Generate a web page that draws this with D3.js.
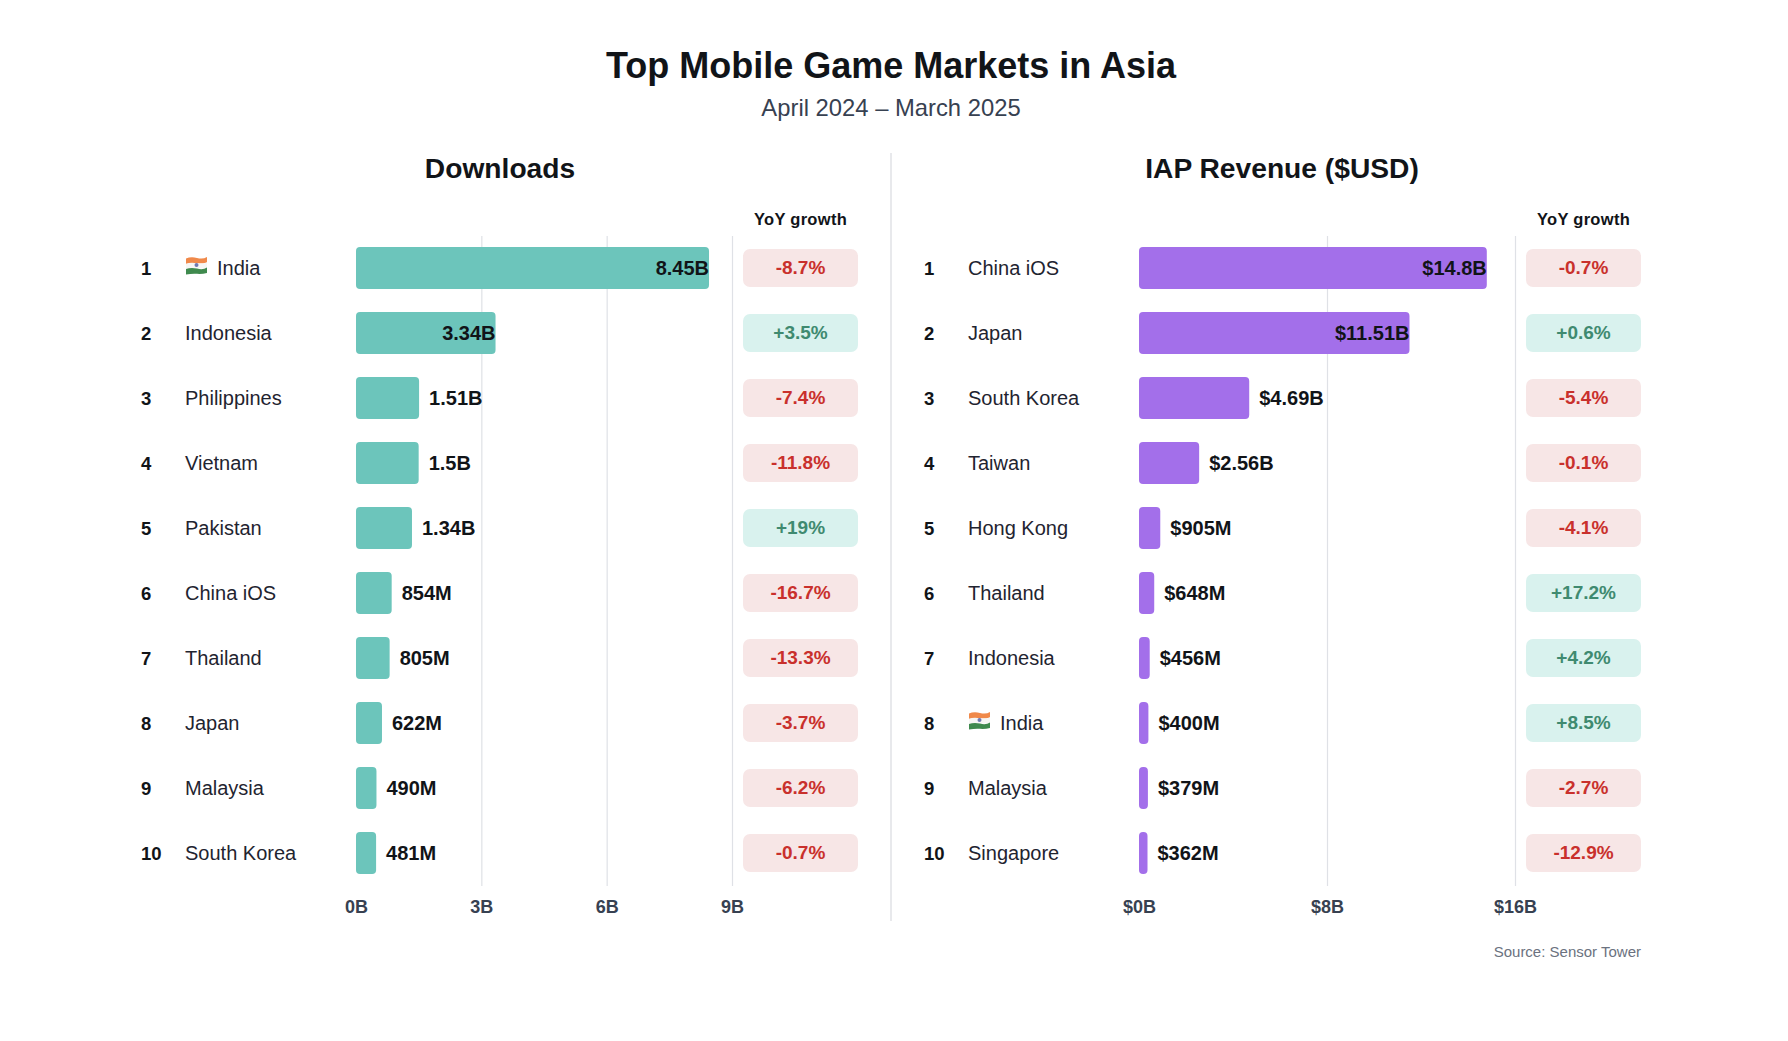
<!DOCTYPE html>
<html>
<head>
<meta charset="utf-8">
<script src="https://cdn.jsdelivr.net/npm/d3@7"></script>
<style>
  body { margin: 0; background: #fff; }
  text { font-family: "Liberation Sans", Arial, sans-serif; }
</style>
</head>
<body>
<div id="chart"></div>
<script>
// Downloads panel
const dlNames = ["India", "Indonesia", "Philippines", "Vietnam", "Pakistan", "China iOS", "Thailand", "Japan", "Malaysia", "South Korea"];
const dlValues = [8.45, 3.34, 1.51, 1.5, 1.34, 0.854, 0.805, 0.622, 0.49, 0.481];
const dlLabels = ["8.45B", "3.34B", "1.51B", "1.5B", "1.34B", "854M", "805M", "622M", "490M", "481M"];
const dlGrowth = ["-8.7%", "+3.5%", "-7.4%", "-11.8%", "+19%", "-16.7%", "-13.3%", "-3.7%", "-6.2%", "-0.7%"];
const dlTicks = [0, 3, 6, 9];

// Revenue panel
const revNames = ["China iOS", "Japan", "South Korea", "Taiwan", "Hong Kong", "Thailand", "Indonesia", "India", "Malaysia", "Singapore"];
const revValues = [14.8, 11.51, 4.69, 2.56, 0.905, 0.648, 0.456, 0.4, 0.379, 0.362];
const revLabels = ["$14.8B", "$11.51B", "$4.69B", "$2.56B", "$905M", "$648M", "$456M", "$400M", "$379M", "$362M"];
const revGrowth = ["-0.7%", "+0.6%", "-5.4%", "-0.1%", "-4.1%", "+17.2%", "+4.2%", "+8.5%", "-2.7%", "-12.9%"];
const revTicks = [0, 8, 16];

const width = 1788, height = 1041;
const dark = "#111418";

const svg = d3.select("#chart").append("svg")
  .attr("width", width)
  .attr("height", height)
  .style("display", "block");

svg.append("text").attr("x", 891).attr("y", 68)
  .attr("text-anchor", "middle").attr("dominant-baseline", "middle")
  .attr("font-size", 36).attr("font-weight", 700).attr("fill", dark)
  .text("Top Mobile Game Markets in Asia");

svg.append("text").attr("x", 891).attr("y", 109.5)
  .attr("text-anchor", "middle").attr("dominant-baseline", "middle")
  .attr("font-size", 23.8).attr("fill", "#374151")
  .text("April 2024 – March 2025");

// divider between the panels
svg.append("line")
  .attr("x1", 891).attr("x2", 891).attr("y1", 153).attr("y2", 921)
  .attr("stroke", "#e0e2e6").attr("stroke-width", 1.5);

svg.append("text").attr("x", 1641).attr("y", 953)
  .attr("text-anchor", "end").attr("dominant-baseline", "middle")
  .attr("font-size", 15).attr("fill", "#6b7280")
  .text("Source: Sensor Tower");

const y = d3.scaleBand().domain(d3.range(10)).range([235.5, 885.5]).paddingInner(0.354).paddingOuter(0.177);

function flag(g, x, cy) {
  // small waving flag, stands in for the emoji
  const f = g.append("g").attr("transform", `translate(${x},${cy - 11})`);
  const band = (y0, color) => f.append("path")
    .attr("d", `M0 ${y0 + 1.5} Q5 ${y0 - 0.5} 11 ${y0 + 1} T21 ${y0} V${y0 + 5.4} Q16 ${y0 + 6.6} 11 ${y0 + 6.2} T0 ${y0 + 6.9} Z`)
    .attr("fill", color);
  band(0, "#f0894a");
  band(5.3, "#f6f6f4");
  band(10.6, "#3f8a4e");
  f.append("circle").attr("cx", 10.5).attr("cy", 8).attr("r", 2).attr("fill", "#6f78b0");
}

function panel(o) {
  const g = svg.append("g");
  const x = d3.scaleLinear().domain(o.domain).range([o.x0, o.x0 + 376]);

  g.append("text").attr("x", o.titleX).attr("y", 171)
    .attr("text-anchor", "middle").attr("dominant-baseline", "middle")
    .attr("font-size", 28.2).attr("font-weight", 700).attr("fill", dark)
    .text(o.title);

  g.append("text").attr("x", o.pillX + 57.5).attr("y", 221)
    .attr("text-anchor", "middle").attr("dominant-baseline", "middle")
    .attr("font-size", 16.5).attr("font-weight", 700).attr("letter-spacing", 0.3).attr("fill", dark)
    .text("YoY growth");

  // grid and tick labels, the zero tick has no line
  const axis = g.append("g")
    .attr("transform", "translate(0,886)")
    .call(d3.axisBottom(x).tickValues(o.ticks).tickSize(-650).tickPadding(14).tickFormat(o.tickFormat));
  axis.select(".domain").remove();
  axis.selectAll(".tick line").attr("stroke", "#dfe1e6").attr("stroke-width", 1.2)
    .filter((d) => d === 0).remove();
  axis.selectAll(".tick text")
    .attr("font-family", "Liberation Sans, Arial, sans-serif")
    .attr("font-size", 18).attr("font-weight", 700).attr("fill", "#374151");

  const rows = g.selectAll(".row").data(o.names).join("g").attr("class", "row");
  const cy = (i) => y(i) + y.bandwidth() / 2;

  rows.append("text").attr("x", o.rankX).attr("y", (d, i) => cy(i) + 1.8)
    .attr("dominant-baseline", "middle")
    .attr("font-size", 18.5).attr("font-weight", 700).attr("fill", dark)
    .text((d, i) => i + 1);

  rows.append("text").attr("x", (d) => o.rankX + (d === "India" ? 76 : 44)).attr("y", (d, i) => cy(i) + 1.6)
    .attr("dominant-baseline", "middle")
    .attr("font-size", 20).attr("fill", "#1f2430")
    .text((d) => d);

  rows.filter((d) => d === "India").each(function (d) {
    const i = o.names.indexOf(d);
    flag(d3.select(this), o.rankX + 45, cy(i));
  });

  rows.append("rect")
    .attr("x", x(0)).attr("y", (d, i) => y(i))
    .attr("width", (d, i) => x(o.values[i]) - x(0))
    .attr("height", y.bandwidth())
    .attr("rx", 4)
    .attr("fill", o.color);

  // long bars carry their label inside, flush with the bar end
  rows.append("text")
    .attr("x", (d, i) => x(o.values[i]) + (o.values[i] > o.insideAt ? 0 : 10))
    .attr("y", (d, i) => cy(i) + 1.6)
    .attr("text-anchor", (d, i) => (o.values[i] > o.insideAt ? "end" : "start"))
    .attr("dominant-baseline", "middle")
    .attr("font-size", 20).attr("font-weight", 700).attr("fill", dark)
    .text((d, i) => o.labels[i]);

  rows.append("rect")
    .attr("x", o.pillX).attr("y", (d, i) => cy(i) - 19)
    .attr("width", 115).attr("height", 38).attr("rx", 7)
    .attr("fill", (d, i) => (o.growth[i][0] === "+" ? "#d9f2ee" : "#f7e6e6"));

  rows.append("text")
    .attr("x", o.pillX + 57.5).attr("y", (d, i) => cy(i) + 0.5)
    .attr("text-anchor", "middle").attr("dominant-baseline", "middle")
    .attr("font-size", 19).attr("font-weight", 700)
    .attr("fill", (d, i) => (o.growth[i][0] === "+" ? "#3f8a70" : "#c9302c"))
    .text((d, i) => o.growth[i]);
}

panel({
  title: "Downloads", titleX: 500, x0: 356, pillX: 743, rankX: 141,
  domain: [0, 9], ticks: dlTicks, tickFormat: (d) => d + "B",
  names: dlNames, values: dlValues, labels: dlLabels, growth: dlGrowth,
  color: "#6cc5bb", insideAt: 3
});

panel({
  title: "IAP Revenue ($USD)", titleX: 1282, x0: 1139, pillX: 1526, rankX: 924,
  domain: [0, 16], ticks: revTicks, tickFormat: (d) => "$" + d + "B",
  names: revNames, values: revValues, labels: revLabels, growth: revGrowth,
  color: "#a36fea", insideAt: 8
});
</script>
</body>
</html>
